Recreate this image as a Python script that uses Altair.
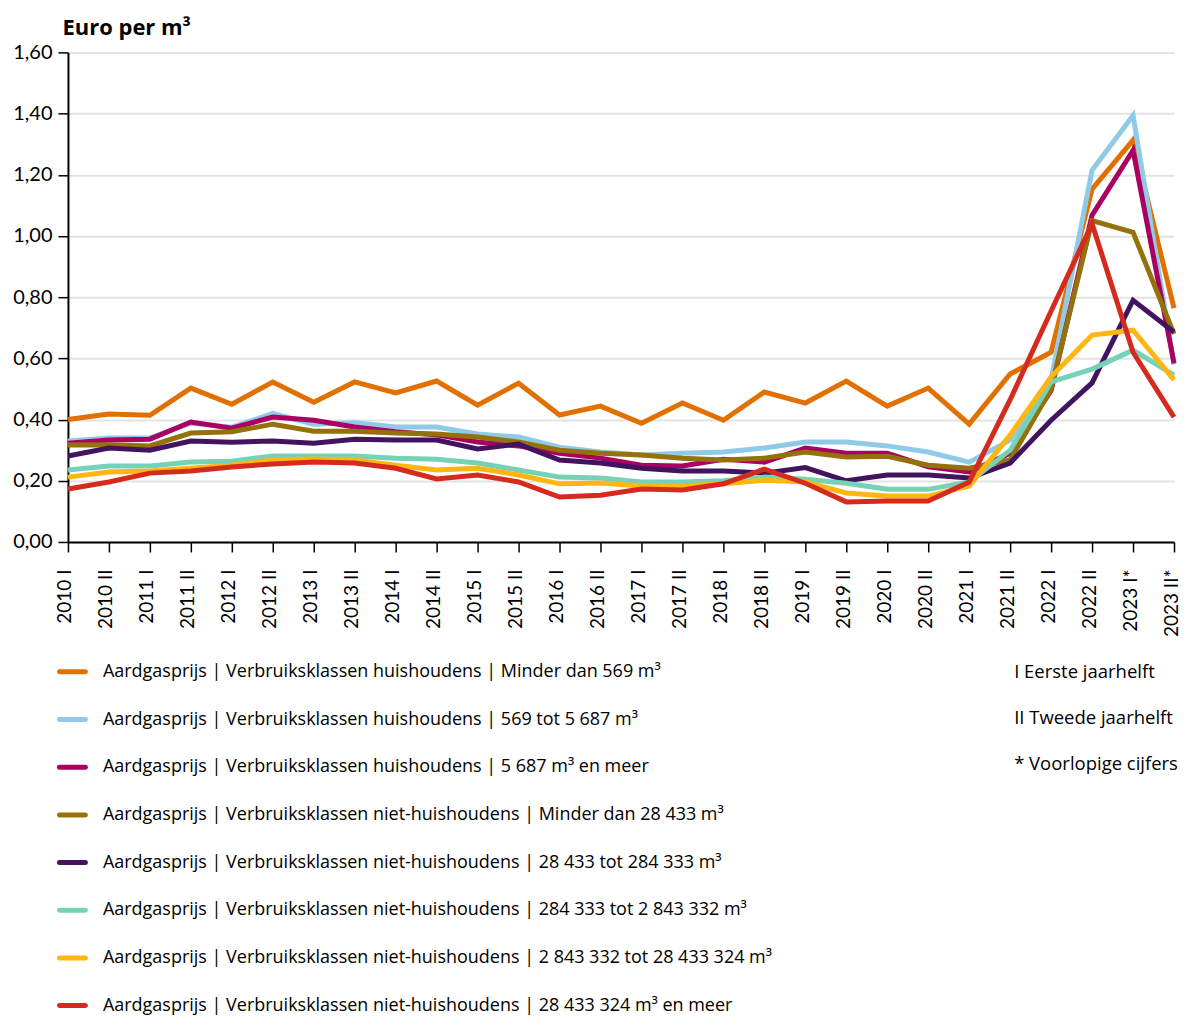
import altair as alt
import pandas as pd

periods = ["2010 I", "2010 II", "2011 I", "2011 II", "2012 I", "2012 II", "2013 I", "2013 II",
           "2014 I", "2014 II", "2015 I", "2015 II", "2016 I", "2016 II", "2017 I", "2017 II",
           "2018 I", "2018 II", "2019 I", "2019 II", "2020 I", "2020 II", "2021 I", "2021 II",
           "2022 I", "2022 II", "2023 I*", "2023 II*"]

series_names = [
    "Aardgasprijs | Verbruiksklassen huishoudens | Minder dan 569 m³",
    "Aardgasprijs | Verbruiksklassen huishoudens | 569 tot 5 687 m³",
    "Aardgasprijs | Verbruiksklassen huishoudens | 5 687 m³ en meer",
    "Aardgasprijs | Verbruiksklassen niet-huishoudens | Minder dan 28 433 m³",
    "Aardgasprijs | Verbruiksklassen niet-huishoudens | 28 433 tot 284 333 m³",
    "Aardgasprijs | Verbruiksklassen niet-huishoudens | 284 333 tot 2 843 332 m³",
    "Aardgasprijs | Verbruiksklassen niet-huishoudens | 2 843 332 tot 28 433 324 m³",
    "Aardgasprijs | Verbruiksklassen niet-huishoudens | 28 433 324 m³ en meer",
]

colors = ["#e17000", "#8fcae7", "#a90061", "#94710a", "#42145f", "#76d2b6", "#ffb612", "#d52b1e"]

huish_min_569 = [0.400, 0.418, 0.414, 0.503, 0.450, 0.523, 0.457, 0.523, 0.487, 0.526, 0.447, 0.519,
                 0.415, 0.444, 0.388, 0.454, 0.398, 0.490, 0.454, 0.526, 0.444, 0.503, 0.385, 0.549,
                 0.620, 1.153, 1.313, 0.764]
huish_569_5687 = [0.330, 0.340, 0.340, 0.388, 0.375, 0.420, 0.385, 0.390, 0.376, 0.376, 0.353, 0.343,
                  0.310, 0.294, 0.284, 0.290, 0.294, 0.307, 0.327, 0.327, 0.314, 0.294, 0.261, 0.333,
                  0.530, 1.215, 1.394, 0.580]
huish_5687_meer = [0.323, 0.333, 0.336, 0.392, 0.372, 0.408, 0.398, 0.376, 0.360, 0.350, 0.327, 0.314,
                   0.290, 0.274, 0.251, 0.248, 0.270, 0.261, 0.307, 0.290, 0.290, 0.246, 0.229, 0.290,
                   0.495, 1.068, 1.280, 0.584]
nh_min_28433 = [0.317, 0.318, 0.314, 0.356, 0.360, 0.385, 0.362, 0.362, 0.356, 0.353, 0.343, 0.327,
                0.300, 0.290, 0.284, 0.274, 0.268, 0.274, 0.294, 0.278, 0.280, 0.251, 0.241, 0.268,
                0.500, 1.050, 1.012, 0.680]
nh_28433_284333 = [0.281, 0.307, 0.300, 0.330, 0.326, 0.330, 0.323, 0.336, 0.333, 0.333, 0.304, 0.320,
                   0.268, 0.258, 0.241, 0.232, 0.232, 0.225, 0.243, 0.200, 0.219, 0.219, 0.209, 0.258,
                   0.398, 0.520, 0.790, 0.686]
nh_284333_2843332 = [0.235, 0.248, 0.248, 0.261, 0.264, 0.281, 0.281, 0.281, 0.274, 0.270, 0.258, 0.235,
                     0.212, 0.209, 0.196, 0.196, 0.200, 0.212, 0.205, 0.192, 0.172, 0.172, 0.196, 0.300,
                     0.523, 0.565, 0.627, 0.545]
nh_2843332_28433324 = [0.212, 0.229, 0.232, 0.241, 0.251, 0.268, 0.271, 0.268, 0.251, 0.235, 0.241, 0.219,
                       0.190, 0.193, 0.183, 0.183, 0.190, 0.202, 0.196, 0.160, 0.150, 0.150, 0.183, 0.350,
                       0.540, 0.676, 0.692, 0.530]
nh_28433324_meer = [0.173, 0.196, 0.225, 0.232, 0.245, 0.255, 0.261, 0.258, 0.241, 0.206, 0.219, 0.196,
                    0.147, 0.153, 0.173, 0.170, 0.190, 0.238, 0.192, 0.131, 0.134, 0.134, 0.196, 0.465,
                    0.755, 1.040, 0.620, 0.408]

all_values = [huish_min_569, huish_569_5687, huish_5687_meer, nh_min_28433,
              nh_28433_284333, nh_284333_2843332, nh_2843332_28433324, nh_28433324_meer]

notes = ["I Eerste jaarhelft", "II Tweede jaarhelft", "* Voorlopige cijfers"]

y_ticks = [0, 0.2, 0.4, 0.6, 0.8, 1.0, 1.2, 1.4, 1.6]

rows = []
for name, vals in zip(series_names, all_values):
    for p, v in zip(periods, vals):
        rows.append({"series": name, "period": p, "value": v})
df = pd.DataFrame(rows)

color_scale = alt.Scale(domain=series_names, range=colors)

PLOT_W = 1107

lines = alt.Chart(df).mark_line(strokeWidth=5, strokeJoin="miter").encode(
    x=alt.X("period:O", sort=periods,
            scale=alt.Scale(type="point", padding=0),
            axis=alt.Axis(title=None, labelAngle=-90, labelAlign="right", labelBaseline="middle",
                          labelFont="Lato", labelFontSize=19, labelColor="#000000",
                          labelPadding=17, labelOffset=-3, tickSize=10, tickColor="#000000",
                          tickWidth=1.5, domainColor="#000000", domainWidth=2, grid=False)),
    y=alt.Y("value:Q",
            scale=alt.Scale(domain=[0, 1.6], nice=False),
            axis=alt.Axis(values=y_ticks, title="Euro per m³", titleAngle=0, titleAlign="left",
                          titleBaseline="alphabetic", titleX=-6, titleY=-18,
                          titleFont="Open Sans", titleFontSize=22, titleFontWeight="bold",
                          titleColor="#000000",
                          labelExpr="replace(format(datum.value, '.2f'), '.', ',')",
                          labelFont="Lato", labelFontSize=20, labelColor="#000000", labelPadding=6,
                          tickSize=10, tickColor="#000000", tickWidth=1.5,
                          domainColor="#000000", domainWidth=2,
                          grid=True, gridColor="#e3e3e3", gridWidth=2)),
    color=alt.Color("series:N", scale=color_scale, legend=None),
    detail="series:N",
).properties(width=PLOT_W, height=490)

leg_df = pd.DataFrame({"series": series_names})
leg_y = alt.Y("series:N", sort=series_names,
              scale=alt.Scale(type="point", domain=series_names, padding=0), axis=None)

swatch = alt.Chart(leg_df).mark_rule(strokeWidth=5, strokeCap="round").encode(
    y=leg_y,
    x=alt.value(-8.5),
    x2=alt.value(17.5),
    color=alt.Color("series:N", scale=color_scale, legend=None),
)
leg_text = alt.Chart(leg_df).mark_text(align="left", baseline="middle", font="Open Sans",
                                        fontSize=18, color="#000000").encode(
    y=leg_y,
    x=alt.value(35),
    text="series:N",
)
notes_df = pd.DataFrame({"note": notes, "row": [0, 1, 2]})
notes_text = alt.Chart(notes_df).mark_text(align="left", baseline="middle", font="Open Sans",
                                           fontSize=18.5, color="#000000").encode(
    y=alt.Y("row:O", scale=alt.Scale(type="point", range=[0, 92], padding=0), axis=None),
    x=alt.value(947),
    text="note:N",
)
legend = alt.layer(swatch, leg_text, notes_text).resolve_scale(y="independent").properties(
    width=PLOT_W, height=334)

chart = alt.vconcat(lines, legend, spacing=26).properties(
    padding={"left": 4, "top": 8, "right": -3, "bottom": 0},
    background="#ffffff",
).configure_view(stroke=None, strokeWidth=0)

chart.save("out.html", embed_options={"renderer": "svg", "actions": False})
